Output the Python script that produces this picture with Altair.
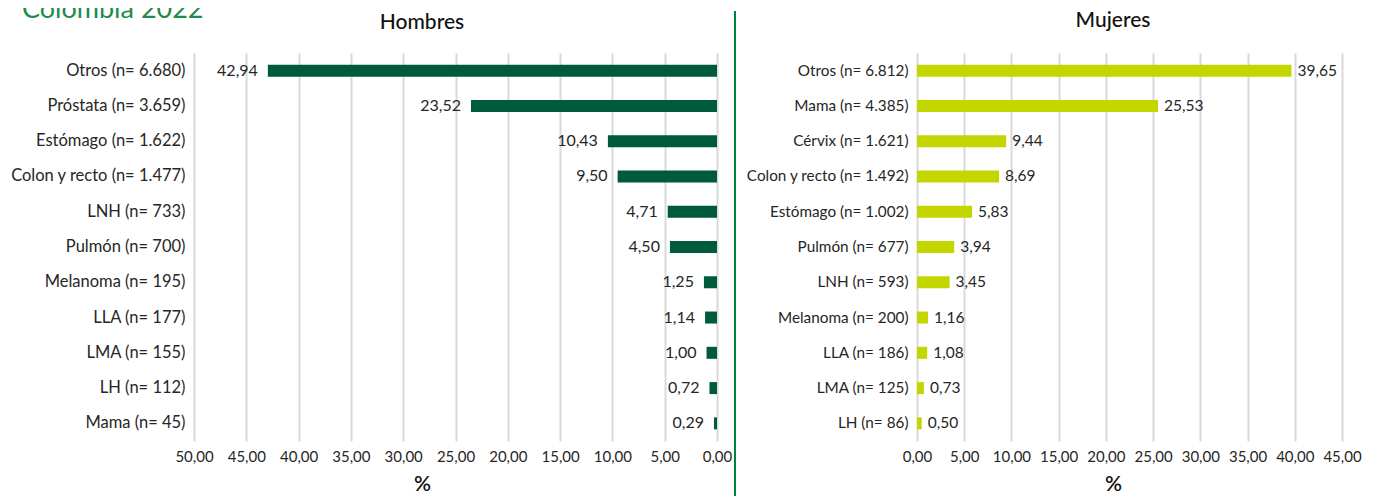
import altair as alt
import pandas as pd

h_cat = ["Otros (n= 6.680)", "Próstata (n= 3.659)", "Estómago (n= 1.622)", "Colon y recto (n= 1.477)",
         "LNH (n= 733)", "Pulmón (n= 700)", "Melanoma (n= 195)", "LLA (n= 177)", "LMA (n= 155)",
         "LH (n= 112)", "Mama (n= 45)"]
h_val = [42.94, 23.52, 10.43, 9.50, 4.71, 4.50, 1.25, 1.14, 1.00, 0.72, 0.29]

m_cat = ["Otros (n= 6.812)", "Mama (n= 4.385)", "Cérvix (n= 1.621)", "Colon y recto (n= 1.492)",
         "Estómago (n= 1.002)", "Pulmón (n= 677)", "LNH (n= 593)", "Melanoma (n= 200)", "LLA (n= 186)",
         "LMA (n= 125)", "LH (n= 86)"]
m_val = [39.65, 25.53, 9.44, 8.69, 5.83, 3.94, 3.45, 1.16, 1.08, 0.73, 0.50]

h_ticks = [50, 45, 40, 35, 30, 25, 20, 15, 10, 5, 0]
m_ticks = [0, 5, 10, 15, 20, 25, 30, 35, 40, 45]

FONT = "Lato"
TXT = "#262626"
hdf = pd.DataFrame({"cat": h_cat, "val": h_val})
hdf["lab"] = [f"{v:.2f}".replace(".", ",") for v in h_val]
mdf = pd.DataFrame({"cat": m_cat, "val": m_val})
mdf["lab"] = [f"{v:.2f}".replace(".", ",") for v in m_val]

lab_expr = "replace(format(datum.value, '.2f'), '.', ',')"

H = 388

def panel(df, cats, ticks, domain, reverse, color, fs, vfs, extent, title_x):
    y = alt.Y("cat:N", sort=cats, title=None,
              scale=alt.Scale(paddingInner=0.0, paddingOuter=0.0),
              axis=alt.Axis(domain=False, ticks=False, labelFont=FONT, labelFontSize=fs,
                            labelColor=TXT, labelPadding=9, minExtent=extent, maxExtent=extent,
                            labelLimit=300))
    x = alt.X("val:Q", title="%",
              scale=alt.Scale(domain=domain, reverse=reverse, nice=False, zero=True),
              axis=alt.Axis(values=ticks, labelExpr=lab_expr, domain=False, ticks=False,
                            grid=True, gridColor="#d9d9d9", gridWidth=2, labelOverlap=False,
                            labelFlush=False,
                            labelFont=FONT, labelFontSize=15, labelColor=TXT, labelPadding=8,
                            titleFont=FONT, titleFontSize=21, titleFontWeight=600, titleColor="#111",
                            titlePadding=9, titleX=title_x))
    base = alt.Chart(df)
    bars = base.mark_bar(color=color, size=12).encode(x=x, y=y)
    if reverse:
        txt = base.mark_text(align="right", dx=-10, font=FONT, fontSize=vfs, color=TXT).encode(
            x="val:Q", y=alt.Y("cat:N", sort=cats), text="lab:N")
    else:
        txt = base.mark_text(align="left", dx=6, font=FONT, fontSize=vfs, color=TXT).encode(
            x="val:Q", y=alt.Y("cat:N", sort=cats), text="lab:N")
    return bars, txt

hb, ht = panel(hdf, h_cat, h_ticks, [0, 50], True, "#005a3c", 16.5, 16, 186, 228)
mb, mt = panel(mdf, m_cat, m_ticks, [0, 45], False, "#c4d600", 15.3, 15.5, 170, 196)

head_h = alt.Chart(pd.DataFrame({"t": ["Hombres"]})).mark_text(
    font=FONT, fontSize=21, fontWeight=500, color="#111", baseline="middle").encode(
    x=alt.value(228), y=alt.value(-30), text="t:N")
brand = alt.Chart(pd.DataFrame({"t": ["Colombia 2022"]})).mark_text(
    font=FONT, fontSize=27, color="#1e8a4c", align="left", baseline="alphabetic").encode(
    x=alt.value(-172), y=alt.value(-35), text="t:N")
left = alt.layer(hb, ht, head_h, brand).properties(width=523, height=H)

head_m = alt.Chart(pd.DataFrame({"t": ["Mujeres"]})).mark_text(
    font=FONT, fontSize=21, fontWeight=500, color="#111", baseline="middle").encode(
    x=alt.value(196), y=alt.value(-32), text="t:N")
divider = alt.Chart(pd.DataFrame({"a": [0]})).mark_rule(color="#00843d", strokeWidth=2).encode(
    x=alt.value(-182), y=alt.value(-42), y2=alt.value(450))
right = alt.layer(mb, mt, head_m, divider).properties(width=425, height=H)

chart = alt.hconcat(left, right, spacing=2).properties(
    padding={"top": -12, "left": 0, "right": 0, "bottom": 0}).configure_view(stroke=None)

chart.save("out.html", embed_options={"renderer": "svg", "actions": False})
